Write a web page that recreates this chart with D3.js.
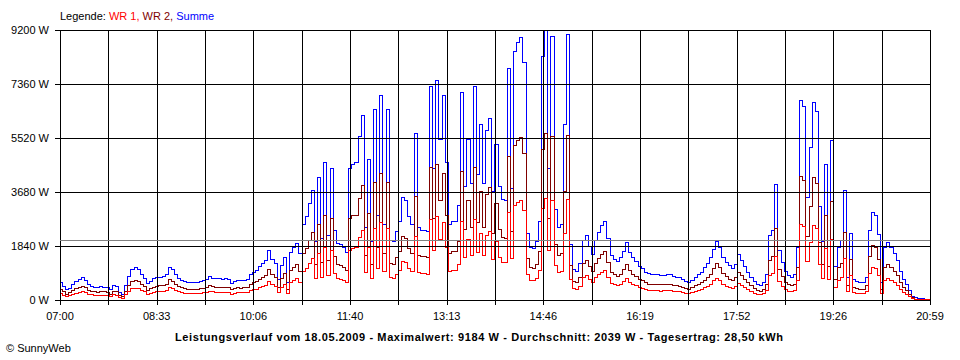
<!DOCTYPE html>
<html lang="de">
  <head>
    <meta charset="UTF-8" />
    <title>Leistungsverlauf 18.05.2009</title>
    <script src="https://cdn.jsdelivr.net/npm/d3@7/dist/d3.min.js"></script>
    <style>
      body {
        margin: 0;
        padding: 0;
        background: #fff;
      }
      text {
        font-family: "Liberation Sans", Arial, sans-serif;
        font-size: 11px;
        fill: #000;
      }
      .grid line {
        stroke: #000;
        stroke-width: 1;
        shape-rendering: crispEdges;
      }
      .serie {
        fill: none;
        stroke-width: 1;
        shape-rendering: crispEdges;
      }
    </style>
  </head>
  <body>
    <svg id="chart"></svg>

    <script>
      // Messwerte alle 3 Minuten ab 07:00 (letzter Wert 20:59), in Watt
      const wr1 = [
        230, 180, 140, 160, 210, 250, 270, 300, 260, 210, 190, 170, 170, 180, 170, 170, 140, 190, 180, 110,
        80, 190, 310, 400, 420, 410, 340, 290, 220, 250, 280, 290, 300, 310, 330, 430, 400, 340, 290, 260,
        250, 240, 240, 240, 240, 250, 260, 270, 320, 290, 280, 280, 280, 280, 270, 220, 250, 260, 260, 260,
        270, 340, 360, 390, 440, 480, 520, 650, 530, 480, 270, 460, 560, 240, 630, 680, 740, 610, 990, 1080,
        1250, 1430, 760, 1600, 800, 1790, 840, 1710, 910, 740, 720, 680, 630, 1710, 1770, 1790, 2130, 2390, 950, 1820,
        760, 2470, 1100, 2660, 990, 2470, 780, 760, 890, 1030, 1330, 1290, 1080, 990, 2170, 950, 910, 910, 890, 2770,
        1710, 2850, 2090, 2660, 1790, 990, 1030, 1030, 1240, 2700, 1480, 2090, 1520, 2770, 1630, 2280, 1520, 2200, 2360, 1410,
        2010, 1480, 1310, 1290, 3000, 1440, 3230, 3340, 3400, 3080, 870, 680, 670, 760, 1030, 3150, 3490, 1710, 3420, 1180,
        950, 990, 2280, 3440, 720, 400, 370, 480, 780, 840, 700, 600, 780, 890, 970, 1030, 800, 590, 530, 500,
        550, 640, 750, 630, 550, 510, 440, 410, 360, 350, 340, 340, 330, 320, 330, 330, 330, 310, 300, 300,
        270, 250, 240, 260, 300, 330, 370, 430, 480, 550, 670, 760, 680, 560, 490, 450, 410, 470, 590, 510,
        440, 360, 300, 250, 210, 190, 230, 340, 840, 910, 1500, 650, 490, 370, 320, 300, 340, 680, 2580, 2510,
        1330, 1980, 2570, 2450, 1220, 760, 1770, 700, 2070, 440, 680, 780, 1430, 300, 860, 270, 240, 240, 240, 300,
        910, 1140, 1100, 860, 230, 680, 750, 680, 610, 510, 380, 270, 210, 130, 60, 40, 30, 20, 20, 20,
        10
      ];
      const wr2 = [
        370, 300, 220, 260, 350, 400, 450, 490, 430, 350, 300, 290, 280, 290, 290, 270, 220, 310, 300, 170,
        120, 310, 510, 660, 690, 660, 550, 470, 350, 400, 460, 480, 500, 510, 540, 700, 660, 560, 470, 430,
        400, 380, 380, 380, 390, 400, 420, 430, 510, 470, 460, 460, 450, 460, 430, 360, 410, 430, 420, 430,
        450, 560, 600, 640, 710, 780, 850, 1070, 870, 780, 430, 740, 920, 380, 1020, 1120, 1210, 990, 1610, 1770,
        2050, 2320, 1240, 2600, 1300, 2910, 1360, 2790, 1490, 1210, 1180, 1120, 1020, 2790, 2880, 2910, 3470, 3910, 1550, 2980,
        1240, 4030, 1800, 4340, 1610, 4030, 1270, 1240, 1460, 1670, 2170, 2110, 1770, 1610, 3530, 1550, 1490, 1490, 1460, 4530,
        2790, 4650, 3410, 4340, 2910, 1610, 1670, 1670, 2010, 4400, 2420, 3410, 2480, 4530, 2670, 3720, 2480, 3600, 3840, 2290,
        3290, 2420, 2140, 2110, 4900, 2360, 5270, 5460, 5550, 5020, 1430, 1120, 1100, 1240, 1670, 5150, 5694, 2790, 5580, 1920,
        1550, 1610, 3720, 5610, 1180, 650, 610, 770, 1270, 1360, 1150, 980, 1270, 1440, 1580, 1670, 1300, 960, 870, 820,
        900, 1040, 1230, 1020, 900, 820, 710, 670, 600, 560, 560, 550, 540, 530, 530, 550, 540, 510, 500, 490,
        430, 400, 380, 430, 500, 550, 600, 690, 770, 900, 1080, 1250, 1120, 920, 810, 730, 670, 770, 970, 840,
        710, 600, 500, 400, 330, 320, 370, 560, 1360, 1490, 2450, 1050, 810, 610, 530, 500, 560, 1120, 4220, 4090,
        2170, 3220, 4180, 4000, 1980, 1240, 2880, 1150, 3380, 710, 1120, 1270, 2320, 500, 1410, 430, 400, 385, 390, 500,
        1490, 1860, 1800, 1390, 370, 1120, 1230, 1120, 990, 840, 620, 430, 350, 200, 90, 50, 40, 40, 30, 20,
        10
      ];
      const summe = wr1.map((v, i) => v + wr2[i]);

      const yTicks = [0, 1840, 3680, 5520, 7360, 9200];
      const xTickLabels = ["07:00", "08:33", "10:06", "11:40", "13:13", "14:46", "16:19", "17:52", "19:26", "20:59"];
      const durchschnitt = 2039;
      const titel = "Leistungsverlauf vom 18.05.2009 - Maximalwert: 9184 W - Durchschnitt: 2039 W - Tagesertrag: 28,50 kWh";

      const width = 960;
      const height = 360;
      const plotL = 60, plotR = 930, plotT = 30, plotB = 300;
      const minuten = 839;

      const svg = d3.select("#chart").attr("width", width).attr("height", height);

      const x = d3.scaleLinear().domain([0, minuten]).range([plotL, plotR]);
      const y = d3.scaleLinear().domain([0, 9200]).range([plotB, plotT]);
      const zeit = (i) => Math.min(i * 3, minuten);

      // Kurven: Summe zuerst, darueber WR 2 und WR 1
      const line = (arr) =>
        d3.line()
          .x((d, i) => Math.round(x(zeit(i))) + 0.5)
          .y((d) => Math.round(y(d)) + 0.5)
          .curve(d3.curveStep)(arr);

      const kurven = [
        { data: summe, color: "#0000ff" },
        { data: wr2, color: "#800000" },
        { data: wr1, color: "#ff0000" },
      ];
      svg.selectAll(".serie")
        .data(kurven)
        .enter()
        .append("path")
        .attr("class", "serie")
        .attr("stroke", (d) => d.color)
        .attr("d", (d) => line(d.data));

      // Gitter liegt ueber den Kurven
      const grid = svg.append("g").attr("class", "grid");
      const xGrid = d3.range(xTickLabels.length * 2 - 1).map((k) => (k * minuten) / ((xTickLabels.length - 1) * 2));

      grid.selectAll(".v")
        .data(xGrid)
        .enter()
        .append("line")
        .attr("x1", (d) => Math.round(x(d)) + 0.5)
        .attr("x2", (d) => Math.round(x(d)) + 0.5)
        .attr("y1", plotT)
        .attr("y2", plotB + 5);

      grid.selectAll(".h")
        .data(yTicks)
        .enter()
        .append("line")
        .attr("x1", plotL - 5)
        .attr("x2", plotR)
        .attr("y1", (d) => Math.round(y(d)) + 0.5)
        .attr("y2", (d) => Math.round(y(d)) + 0.5);

      // Durchschnittslinie
      svg.append("line")
        .attr("x1", plotL)
        .attr("x2", plotR)
        .attr("y1", Math.round(y(durchschnitt)) + 0.5)
        .attr("y2", Math.round(y(durchschnitt)) + 0.5)
        .attr("stroke", "#808080")
        .attr("shape-rendering", "crispEdges");

      svg.selectAll(".ylabel")
        .data(yTicks)
        .enter()
        .append("text")
        .attr("x", plotL - 11)
        .attr("y", (d) => y(d) + 4)
        .attr("text-anchor", "end")
        .text((d) => d + " W");

      svg.selectAll(".xlabel")
        .data(xTickLabels)
        .enter()
        .append("text")
        .attr("x", (d, i) => x((i * minuten) / (xTickLabels.length - 1)))
        .attr("y", 320)
        .attr("text-anchor", "middle")
        .text((d) => d);

      // Legende
      const legende = svg.append("text").attr("x", plotL).attr("y", 20);
      legende.append("tspan").text("Legende: ");
      legende.append("tspan").attr("fill", "#ff0000").text("WR 1, ");
      legende.append("tspan").attr("fill", "#800000").text("WR 2, ");
      legende.append("tspan").attr("fill", "#0000ff").text("Summe");

      svg.append("text")
        .attr("x", 175)
        .attr("y", 341)
        .attr("font-weight", "bold")
        .attr("font-size", "12px")
        .attr("textLength", 608)
        .attr("lengthAdjust", "spacing")
        .text(titel);

      svg.append("text").attr("x", 6).attr("y", 352).text("\u00a9 SunnyWeb");
    </script>
  </body>
</html>
